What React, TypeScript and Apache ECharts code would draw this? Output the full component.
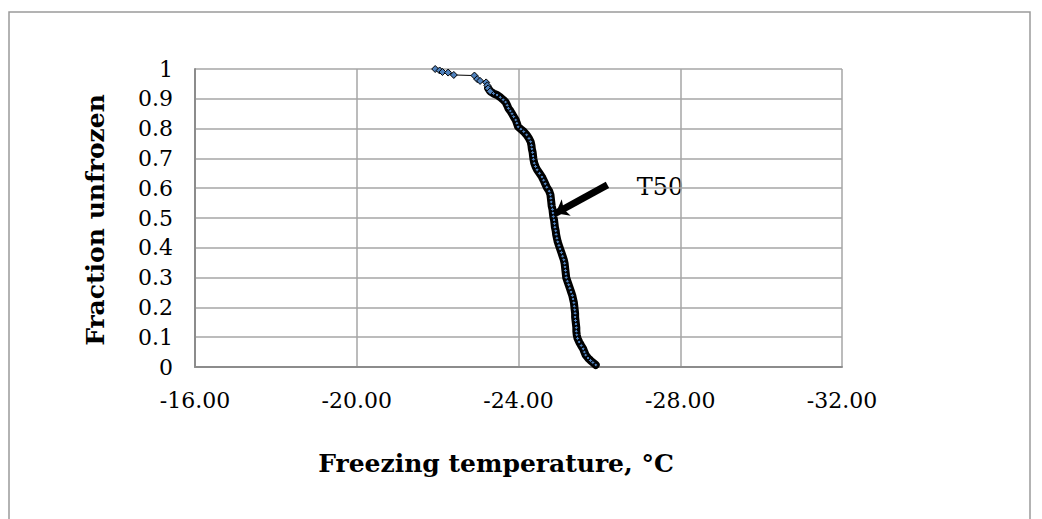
import React, { useEffect, useRef } from "react";
import * as echarts from "echarts";

const tempX = [
  -21.94, -22.05, -22.12, -22.26, -22.4, -22.91, -22.98, -23.05, -23.2, -23.23,
  -23.25, -23.3, -23.38, -23.47, -23.55, -23.62, -23.68, -23.72, -23.75, -23.8,
  -23.84, -23.88, -23.93, -23.96, -23.99, -24.06, -24.13, -24.2, -24.26, -24.3,
  -24.32, -24.33, -24.35, -24.36, -24.37, -24.39, -24.42, -24.46, -24.52, -24.58,
  -24.62, -24.66, -24.7, -24.76, -24.79, -24.8, -24.81, -24.82, -24.84, -24.85,
  -24.86, -24.88, -24.89, -24.9, -24.92, -24.93, -24.95, -24.97, -25.0, -25.03,
  -25.06, -25.09, -25.12, -25.14, -25.15, -25.16, -25.17, -25.18, -25.21, -25.24,
  -25.27, -25.3, -25.33, -25.35, -25.37, -25.38, -25.39, -25.4, -25.4, -25.41,
  -25.42, -25.43, -25.43, -25.44, -25.46, -25.5, -25.55, -25.6, -25.63, -25.66,
  -25.72, -25.78, -25.84, -25.91,
];
const fracY = [
  1.0, 0.995, 0.99, 0.988, 0.98, 0.978, 0.966, 0.96, 0.955, 0.945,
  0.935, 0.925, 0.918, 0.913, 0.905, 0.897, 0.889, 0.878, 0.868, 0.859,
  0.85, 0.84, 0.829, 0.818, 0.806, 0.798, 0.79, 0.779, 0.767, 0.756,
  0.744, 0.732, 0.72, 0.708, 0.697, 0.684, 0.673, 0.662, 0.65, 0.638,
  0.627, 0.615, 0.603, 0.59, 0.578, 0.566, 0.554, 0.541, 0.529, 0.517,
  0.505, 0.493, 0.481, 0.469, 0.457, 0.445, 0.432, 0.42, 0.408, 0.396,
  0.384, 0.372, 0.36, 0.348, 0.336, 0.324, 0.312, 0.3, 0.288, 0.276,
  0.264, 0.252, 0.24, 0.228, 0.216, 0.204, 0.192, 0.18, 0.168, 0.156,
  0.144, 0.132, 0.12, 0.108, 0.096, 0.084, 0.072, 0.061, 0.05, 0.04,
  0.03, 0.022, 0.015, 0.007,
];
// index from which the markers overlap densely (drawn as a dark band)
const denseStart = 12;
const arrowTail = [-26.2, 0.611];
const arrowHead = [-24.92, 0.516];
const annotationText = "T50";
const xTitle = "Freezing temperature, °C";
const yTitle = "Fraction unfrozen";

const FONT = "'DejaVu Serif', serif";

export default function App() {
  const ref = useRef<HTMLDivElement>(null);
  useEffect(() => {
    if (!ref.current) return;
    const chart = echarts.init(ref.current, null, { renderer: "svg" });
    const data = tempX.map((x, i) => [x, fracY[i]]);
    const dense = data.slice(denseStart - 2);
    chart.setOption({
      animation: false,
      backgroundColor: "#fff",
      grid: { left: 195, right: 200, top: 69, bottom: 152 },
      xAxis: {
        type: "value",
        inverse: true,
        min: -32,
        max: -16,
        interval: 4,
        axisLine: { show: true, onZero: false, lineStyle: { color: "#8c8c8c", width: 2 } },
        axisTick: { show: false },
        splitLine: { show: true, lineStyle: { color: "#a6a6a6", width: 1.5 } },
        axisLabel: {
          margin: 22,
          color: "#000",
          fontFamily: FONT,
          fontSize: 22,
          formatter: (v: number) => v.toFixed(2),
        },
      },
      yAxis: {
        type: "value",
        min: 0,
        max: 1,
        interval: 0.1,
        axisLine: { show: true, lineStyle: { color: "#8c8c8c", width: 2 } },
        axisTick: { show: false },
        splitLine: { show: true, lineStyle: { color: "#a6a6a6", width: 1.5 } },
        axisLabel: {
          margin: 22,
          color: "#000",
          fontFamily: FONT,
          fontSize: 22,
          formatter: (v: number) => String(parseFloat(v.toFixed(1))),
        },
      },
      series: [
        {
          type: "line",
          data: dense,
          symbol: "none",
          z: 2,
          lineStyle: { color: "#000", width: 8, cap: "round", join: "round" },
          silent: true,
        },
        {
          type: "line",
          data,
          z: 3,
          symbol: "diamond",
          symbolSize: (_v: any, p: any) => (p.dataIndex < denseStart ? 7 : 4),
          showAllSymbol: true,
          lineStyle: { color: "#000", width: 1 },
          itemStyle: { color: "#4f81bd", borderColor: "#000", borderWidth: 1 },
          markLine: {
            silent: true,
            symbol: ["none", "arrow"],
            symbolSize: [14, 12],
            label: { show: false },
            lineStyle: { color: "#000", width: 7, type: "solid" },
            data: [[{ coord: arrowTail }, { coord: arrowHead }]],
          },
        },
      ],
      graphic: [
        {
          type: "rect",
          shape: { x: 9, y: 12, width: 1021, height: 530 },
          style: { fill: "none", stroke: "#9a9a9a", lineWidth: 1.5 },
          silent: true,
        },
        {
          type: "text",
          x: 660,
          y: 187,
          style: {
            text: annotationText,
            font: `24px ${FONT}`,
            fill: "#000",
            align: "center",
            verticalAlign: "middle",
          },
        },
        {
          type: "text",
          x: 496,
          y: 463,
          style: {
            text: xTitle,
            font: `bold 25px ${FONT}`,
            fill: "#000",
            align: "center",
            verticalAlign: "middle",
          },
        },
        {
          type: "text",
          x: 95,
          y: 220,
          rotation: Math.PI / 2,
          style: {
            text: yTitle,
            font: `bold 25px ${FONT}`,
            fill: "#000",
            align: "center",
            verticalAlign: "middle",
          },
        },
      ],
    });
    return () => chart.dispose();
  }, []);
  return (
    <div
      ref={ref}
      style={{ position: "fixed", left: 0, top: 0, width: 1042, height: 519 }}
    />
  );
}
